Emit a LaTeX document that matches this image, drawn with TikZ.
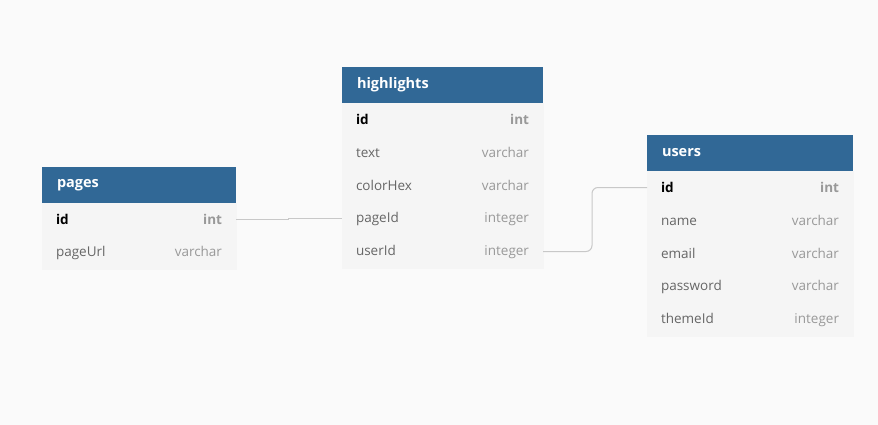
\documentclass[tikz,border=0pt]{standalone}
\usepackage{fontspec}
\setmainfont{Open Sans}
\usetikzlibrary{positioning}
\usetikzlibrary{calc}

\definecolor{bgcol}{HTML}{FAFAFA}
\definecolor{headcol}{HTML}{316896}
\definecolor{rowcol}{HTML}{F5F5F5}
\definecolor{fieldcol}{HTML}{666666}
\definecolor{typecol}{HTML}{999999}
\definecolor{linkcol}{HTML}{C8C8C8}

\tikzset{
  tablehead/.style={fill=headcol, text=white, anchor=north west, inner xsep=15pt,
    inner ysep=0pt, outer sep=0pt, minimum height=36pt, align=left,
    font=\fontsize{14.5pt}{17pt}\selectfont\bfseries},
  tablerow/.style={fill=rowcol, draw=rowcol, line width=0.6pt, outer sep=0pt,
    text=fieldcol, inner xsep=14pt, inner ysep=0pt, minimum height=33pt,
    align=left, font=\fontsize{13.5pt}{16pt}\selectfont},
  link/.style={draw=linkcol, line width=1pt},
}

\newcommand{\fieldrow}[2]{#1\hfill\textcolor{typecol}{#2}}
\newcommand{\keyrow}[2]{\textbf{\textcolor{black}{#1}}\hfill\textbf{\textcolor{typecol}{#2}}}

\begin{document}
\begin{tikzpicture}[x=1pt, y=-1pt]
  \fill[bgcol] (0,0) rectangle (878,425);
  \useasboundingbox (0,0) rectangle (878,425);

  % pages
  \node[tablehead, text width=164pt] (pages) at (42,167) {pages};
  \node[tablerow, text width=166pt, below=0pt of pages] (pages-id) {\keyrow{id}{int}};
  \node[tablerow, text width=166pt, below=0pt of pages-id] (pages-url) {\fieldrow{pageUrl}{varchar}};

  % highlights
  \node[tablehead, text width=171pt] (hl) at (342,67) {highlights};
  \node[tablerow, text width=173pt, below=0pt of hl] (hl-id) {\keyrow{id}{int}};
  \node[tablerow, text width=173pt, below=0pt of hl-id] (hl-text) {\fieldrow{text}{varchar}};
  \node[tablerow, text width=173pt, below=0pt of hl-text] (hl-color) {\fieldrow{colorHex}{varchar}};
  \node[tablerow, text width=173pt, below=0pt of hl-color] (hl-page) {\fieldrow{pageId}{integer}};
  \node[tablerow, text width=173pt, below=0pt of hl-page] (hl-user) {\fieldrow{userId}{integer}};

  % users
  \node[tablehead, text width=176pt] (users) at (647,135) {users};
  \node[tablerow, text width=178pt, below=0pt of users] (users-id) {\keyrow{id}{int}};
  \node[tablerow, text width=178pt, below=0pt of users-id] (users-name) {\fieldrow{name}{varchar}};
  \node[tablerow, text width=178pt, below=0pt of users-name] (users-email) {\fieldrow{email}{varchar}};
  \node[tablerow, text width=178pt, below=0pt of users-email] (users-pass) {\fieldrow{password}{varchar}};
  \node[tablerow, text width=178pt, below=0pt of users-pass] (users-theme) {\fieldrow{themeId}{integer}};

  \draw[link] (pages-id.east) -- ++(52,0) |- (hl-page.west);
  \draw[link, rounded corners=6pt] (hl-user.east) -- ++(49,0) |- (users-id.west);
\end{tikzpicture}
\end{document}
